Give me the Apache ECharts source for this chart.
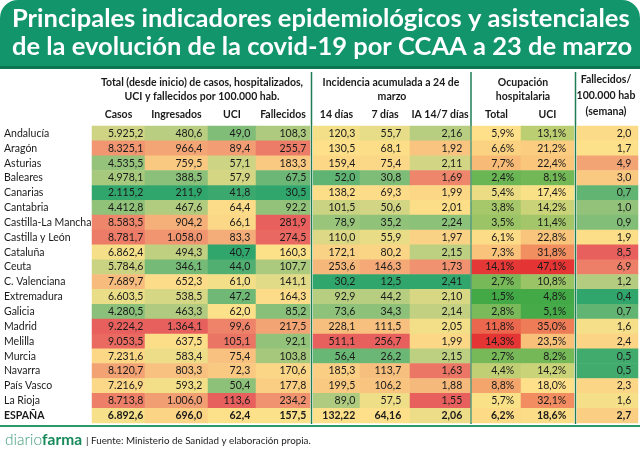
<!DOCTYPE html>
<html><head><meta charset="utf-8">
<script src="https://cdn.jsdelivr.net/npm/echarts@6/dist/echarts.min.js"></script>
<style>html,body{margin:0;padding:0;background:#fff}#c{width:640px;height:449px}</style>
</head><body><div id="c"></div>
<script>
const rows = ['Andalucía','Aragón','Asturias','Baleares','Canarias','Cantabria','Castilla-La Mancha','Castilla y León','Cataluña','Ceuta','C. Valenciana','Extremadura','Galicia','Madrid','Melilla','Murcia','Navarra','País Vasco','La Rioja','ESPAÑA'];
const columns = ['Casos','Ingresados','UCI','Fallecidos','14 días','7 días','IA 14/7 días','Total','UCI',''];
const casos = [5925.2, 8325.1, 4535.5, 4978.1, 2115.2, 4412.8, 8583.5, 8781.7, 6862.4, 5784.6, 7689.7, 6603.5, 4280.5, 9224.2, 9053.5, 7231.6, 8120.7, 7216.9, 8713.8, 6892.6];
const ingresados = [480.6, 966.4, 759.5, 388.5, 211.9, 467.6, 904.2, 1058.0, 494.3, 346.1, 652.3, 538.5, 463.3, 1364.1, 637.5, 583.4, 803.3, 593.2, 1006.0, 696.0];
const uci = [49.0, 89.4, 57.1, 57.9, 41.8, 64.4, 66.1, 83.3, 40.7, 44.0, 61.0, 47.2, 62.0, 99.6, 105.1, 75.4, 72.3, 50.4, 113.6, 62.4];
const fallecidos = [108.3, 255.7, 183.3, 67.5, 30.5, 92.2, 281.9, 274.5, 160.3, 107.7, 141.1, 164.3, 85.2, 217.5, 92.1, 103.8, 170.6, 177.8, 234.2, 157.5];
const ia14 = [120.3, 130.5, 159.4, 52.0, 138.2, 101.5, 78.9, 110.0, 172.1, 253.6, 30.2, 92.9, 73.6, 228.1, 511.1, 56.4, 185.3, 199.5, 89.0, 132.22];
const ia7 = [55.7, 68.1, 75.4, 30.8, 69.3, 50.6, 35.2, 55.9, 80.2, 146.3, 12.5, 44.2, 34.3, 111.5, 256.7, 26.2, 113.7, 106.2, 57.5, 64.16];
const ratio147 = [2.16, 1.92, 2.11, 1.69, 1.99, 2.01, 2.24, 1.97, 2.15, 1.73, 2.41, 2.10, 2.14, 2.05, 1.99, 2.15, 1.63, 1.88, 1.55, 2.06];
const ocupTotal = [5.9, 6.6, 7.7, 2.4, 5.4, 3.8, 3.5, 6.1, 7.3, 14.1, 2.7, 1.5, 2.8, 11.8, 14.3, 2.7, 4.4, 8.8, 5.7, 6.2];
const ocupUci = [13.1, 21.2, 22.4, 8.1, 17.4, 14.2, 11.4, 22.8, 31.8, 47.1, 10.8, 4.8, 5.1, 35.0, 23.5, 8.2, 14.2, 18.0, 32.1, 18.6];
const fallSemana = [2.0, 1.7, 4.9, 3.0, 0.7, 1.0, 0.9, 1.9, 8.5, 6.9, 1.2, 0.4, 0.7, 1.6, 2.4, 0.5, 0.5, 2.3, 1.6, 2.7];
const columnValues = [casos, ingresados, uci, fallecidos, ia14, ia7, ratio147, ocupTotal, ocupUci, fallSemana];
const decimals = [1,1,1,1,1,1,2,1,1,1];
const totalDecimals = [1,1,1,1,2,2,2,1,1,1];
const suffix = ['','','','','','','','%','%',''];
const reversedScale = [false,false,false,false,false,false,true,false,false,false];

// layout (styles)
const colLeft  = [92,145,208,256,313,360,410,472,521,577];
const colWidth = [53,63,48,54,47,50,60,49,53,61];
const labelDist = [2,6,6,4,5,9,8,7,8,7];
const gridTop = 126, gridHeight = 297;
const FONT = 'Lato, "Open Sans", sans-serif';
const palDefault = ['#31a66c','#fde28a','#e8605e'];
const palOcup = ['#43a946','#fde28a','#e43434'];

function fmt(v, d) {
  const s = v.toFixed(d).split('.');
  const int = s[0].replace(/\B(?=(\d{3})+(?!\d))/g, '.');
  return s.length > 1 ? int + ',' + s[1] : int;
}
function median(a) {
  const s = a.slice().sort((x,y)=>x-y), n = s.length;
  return n % 2 ? s[(n-1)/2] : (s[n/2-1] + s[n/2]) / 2;
}
function scaleFn(arr) {
  const mn = Math.min(...arr), mx = Math.max(...arr), md = median(arr);
  return v => v <= md ? 0.5 * (v - mn) / (md - mn) : 0.5 + 0.5 * (v - md) / (mx - md);
}

const grids = [], xAxes = [], yAxes = [], series = [], visualMaps = [];
columnValues.forEach((vals, i) => {
  grids.push({left: colLeft[i], width: colWidth[i], top: gridTop, height: gridHeight});
  xAxes.push({
    type: 'category', gridIndex: i, data: [columns[i]], position: 'top',
    show: columns[i] !== '', axisLine: {show: false}, axisTick: {show: false}, splitLine: {show: false},
    axisLabel: {margin: 6, fontFamily: FONT, fontSize: 10.5, fontWeight: 'bold', color: '#1a1a1a', interval: 0}
  });
  yAxes.push({
    type: 'category', gridIndex: i, data: rows, inverse: true, show: i === 0,
    axisLine: {show: false}, axisTick: {show: false}, splitLine: {show: false},
    axisLabel: {
      align: 'left', margin: colLeft[0] - 4, fontFamily: FONT, fontSize: 10.5, color: '#1a1a1a', interval: 0,
      formatter: v => v === 'ESPAÑA' ? '{b|' + v + '}' : v,
      rich: {b: {fontWeight: 'bold', fontFamily: FONT, fontSize: 10.5, color: '#1a1a1a'}}
    }
  });
  const t = scaleFn(vals);
  const last = vals.length - 1;
  series.push({
    type: 'heatmap', xAxisIndex: i, yAxisIndex: i,
    data: vals.map((v, j) => {
      const item = {value: [0, j, v, t(v)]};
      if (j === last) item.label = {fontWeight: 'bold'};
      return item;
    }),
    itemStyle: {borderWidth: 0},
    emphasis: {disabled: true},
    label: {
      show: true, position: 'insideRight', distance: labelDist[i],
      fontFamily: FONT, fontSize: 10.5, color: '#1a1a1a',
      formatter: p => fmt(p.value[2], p.dataIndex === last ? totalDecimals[i] : decimals[i]) + suffix[i]
    }
  });
  const pal = (i === 7 || i === 8) ? palOcup : palDefault;
  visualMaps.push({
    type: 'continuous', show: false, seriesIndex: i, dimension: 3, min: 0, max: 1,
    inRange: {color: reversedScale[i] ? pal.slice().reverse() : pal}
  });
});

const hdr = (text, x, y) => ({
  type: 'text', x: x, y: y,
  style: {text: text, fontFamily: FONT, fontSize: 10.5, fontWeight: 'bold', fill: '#1a1a1a', align: 'center', verticalAlign: 'middle'}
});
const vline = x => ({type: 'line', shape: {x1: x, y1: 72, x2: x, y2: 424}, style: {stroke: '#1f7d54', lineWidth: 1.5}});

const graphic = [
  {type: 'rect', shape: {x: 0, y: 0, width: 640, height: 69, r: [18, 18, 0, 0]}, style: {fill: '#12956a'}},
  {type: 'rect', shape: {x: 0, y: 66, width: 640, height: 3}, style: {fill: '#0b7450'}},
  {type: 'text', x: 12, y: 19, style: {text: 'Principales indicadores epidemiológicos y asistenciales', fontFamily: FONT, fontSize: 25.5, fontWeight: 'bold', fill: '#fff', verticalAlign: 'middle'}},
  {type: 'text', x: 12, y: 47, style: {text: 'de la evolución de la covid-19 por CCAA a 23 de marzo', fontFamily: FONT, fontSize: 25.5, fontWeight: 'bold', fill: '#fff', verticalAlign: 'middle'}},
  hdr('Total (desde inicio) de casos, hospitalizados,', 202, 83),
  hdr('UCI y fallecidos por 100.000 hab.', 202, 97),
  hdr('Incidencia acumulada a 24 de', 391, 83),
  hdr('marzo', 392, 97),
  hdr('Ocupación', 523, 83),
  hdr('hospitalaria', 523, 97),
  hdr('Fallecidos/', 606, 80),
  hdr('100.000 hab', 606, 96),
  hdr('(semana)', 606, 112),
  vline(311.5), vline(471), vline(575.5),
  {type: 'line', shape: {x1: 0, y1: 426, x2: 640, y2: 426}, style: {stroke: '#2a9a68', lineWidth: 2}},
  {type: 'text', x: 5, y: 439, style: {
    text: '{a|diario}{b|farma}{c|| Fuente: Ministerio de Sanidad y elaboración propia.}',
    verticalAlign: 'middle',
    rich: {
      a: {fontFamily: FONT, fontSize: 15.5, fontWeight: 300, fill: '#3e9c78', lineHeight: 18, verticalAlign: 'bottom'},
      b: {fontFamily: FONT, fontSize: 15.5, fontWeight: 'bold', fill: '#17895a', lineHeight: 18, verticalAlign: 'bottom'},
      c: {fontFamily: FONT, fontSize: 9.8, fill: '#222', lineHeight: 18, verticalAlign: 'bottom', padding: [0, 0, 2, 4]}
    }
  }}
];

const chart = echarts.init(document.getElementById('c'), null, {renderer: 'canvas'});
chart.setOption({
  animation: false,
  grid: grids, xAxis: xAxes, yAxis: yAxes, series: series, visualMap: visualMaps,
  graphic: graphic
});
</script></body></html>
